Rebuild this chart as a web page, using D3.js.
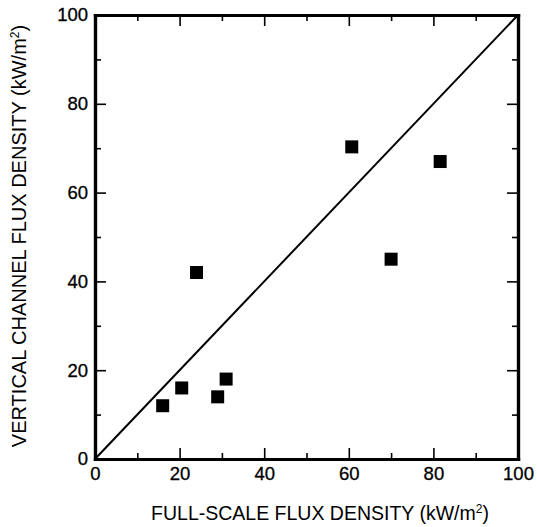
<!DOCTYPE html>
<html lang="en">
<head>
    <meta charset="UTF-8">
    <title>Vertical channel vs full-scale flux density</title>
    <script src="https://d3js.org/d3.v7.min.js"></script>
    <style>
        body {
            margin: 0;
            padding: 0;
            background-color: #fff;
        }
        svg text {
            font-family: "Liberation Sans", Arial, sans-serif;
            fill: #000;
        }
    </style>
</head>
<body>
    <div id="chart"></div>

    <script>
        // measured points (kW/m2)
        const fullScale = [16, 20.5, 24, 29, 31, 60.7, 70, 81.6];
        const verticalChannel = [12, 16, 42, 14, 18, 70.3, 45, 67];
        const majorTicks = [0, 20, 40, 60, 80, 100];
        const minorTicks = [10, 30, 50, 70, 90];

        const width = 537, height = 527;
        const margin = { top: 15, right: 19, bottom: 68, left: 95 };

        const svg = d3.select("#chart")
            .append("svg")
            .attr("width", width)
            .attr("height", height);

        const x = d3.scaleLinear()
            .domain([0, 100])
            .range([margin.left, width - margin.right]);

        const y = d3.scaleLinear()
            .domain([0, 100])
            .range([height - margin.bottom, margin.top]);

        const bottom = height - margin.bottom;
        const right = width - margin.right;

        // major ticks with labels
        svg.append("g")
            .attr("class", "axis")
            .attr("transform", `translate(0,${bottom})`)
            .call(d3.axisBottom(x).tickValues(majorTicks).tickSizeInner(-11).tickSizeOuter(0).tickPadding(8));

        svg.append("g")
            .attr("class", "axis")
            .attr("transform", `translate(${margin.left},0)`)
            .call(d3.axisLeft(y).tickValues(majorTicks).tickSizeInner(-11).tickSizeOuter(0).tickPadding(7));

        svg.append("g")
            .attr("class", "axis")
            .attr("transform", `translate(0,${margin.top})`)
            .call(d3.axisTop(x).tickValues(majorTicks).tickSizeInner(-11).tickSizeOuter(0).tickFormat(""));

        svg.append("g")
            .attr("class", "axis")
            .attr("transform", `translate(${right},0)`)
            .call(d3.axisRight(y).tickValues(majorTicks).tickSizeInner(-11).tickSizeOuter(0).tickFormat(""));

        // minor ticks
        svg.append("g").attr("class", "axis minor")
            .attr("transform", `translate(0,${bottom})`)
            .call(d3.axisBottom(x).tickValues(minorTicks).tickSizeInner(-6).tickSizeOuter(0).tickFormat(""));
        svg.append("g").attr("class", "axis minor")
            .attr("transform", `translate(${margin.left},0)`)
            .call(d3.axisLeft(y).tickValues(minorTicks).tickSizeInner(-6).tickSizeOuter(0).tickFormat(""));
        svg.append("g").attr("class", "axis minor")
            .attr("transform", `translate(0,${margin.top})`)
            .call(d3.axisTop(x).tickValues(minorTicks).tickSizeInner(-6).tickSizeOuter(0).tickFormat(""));
        svg.append("g").attr("class", "axis minor")
            .attr("transform", `translate(${right},0)`)
            .call(d3.axisRight(y).tickValues(minorTicks).tickSizeInner(-6).tickSizeOuter(0).tickFormat(""));

        svg.selectAll(".axis path")
            .attr("stroke", "#000")
            .attr("stroke-width", 3.2)
            .attr("stroke-linecap", "square");
        svg.selectAll(".axis line")
            .attr("stroke", "#000")
            .attr("stroke-width", 1.6);
        svg.selectAll(".axis text")
            .style("font-size", "18.5px")
            .style("stroke", "#000")
            .style("stroke-width", 0.3);

        // 1:1 line
        svg.append("line")
            .attr("x1", x(0)).attr("y1", y(0))
            .attr("x2", x(100)).attr("y2", y(100))
            .attr("stroke", "#000")
            .attr("stroke-width", 2);

        const data = fullScale.map((d, i) => ({ fx: d, vy: verticalChannel[i] }));
        const s = 13;

        svg.selectAll("rect.pt")
            .data(data)
            .enter()
            .append("rect")
            .attr("class", "pt")
            .attr("x", d => x(d.fx) - s / 2)
            .attr("y", d => y(d.vy) - s / 2)
            .attr("width", s)
            .attr("height", s)
            .attr("fill", "#000");

        // axis titles
        svg.append("text")
            .attr("x", 320)
            .attr("y", 520)
            .attr("text-anchor", "middle")
            .style("font-size", "19.5px")
            .html('FULL-SCALE FLUX DENSITY (kW/m<tspan font-size="12px" dy="-7">2</tspan><tspan dy="7">)</tspan>');

        svg.append("text")
            .attr("transform", `translate(26,236) rotate(-90)`)
            .attr("text-anchor", "middle")
            .style("font-size", "20px")
            .html('VERTICAL CHANNEL FLUX DENSITY (kW/m<tspan font-size="12px" dy="-7">2</tspan><tspan dy="7">)</tspan>');
    </script>
</body>
</html>
